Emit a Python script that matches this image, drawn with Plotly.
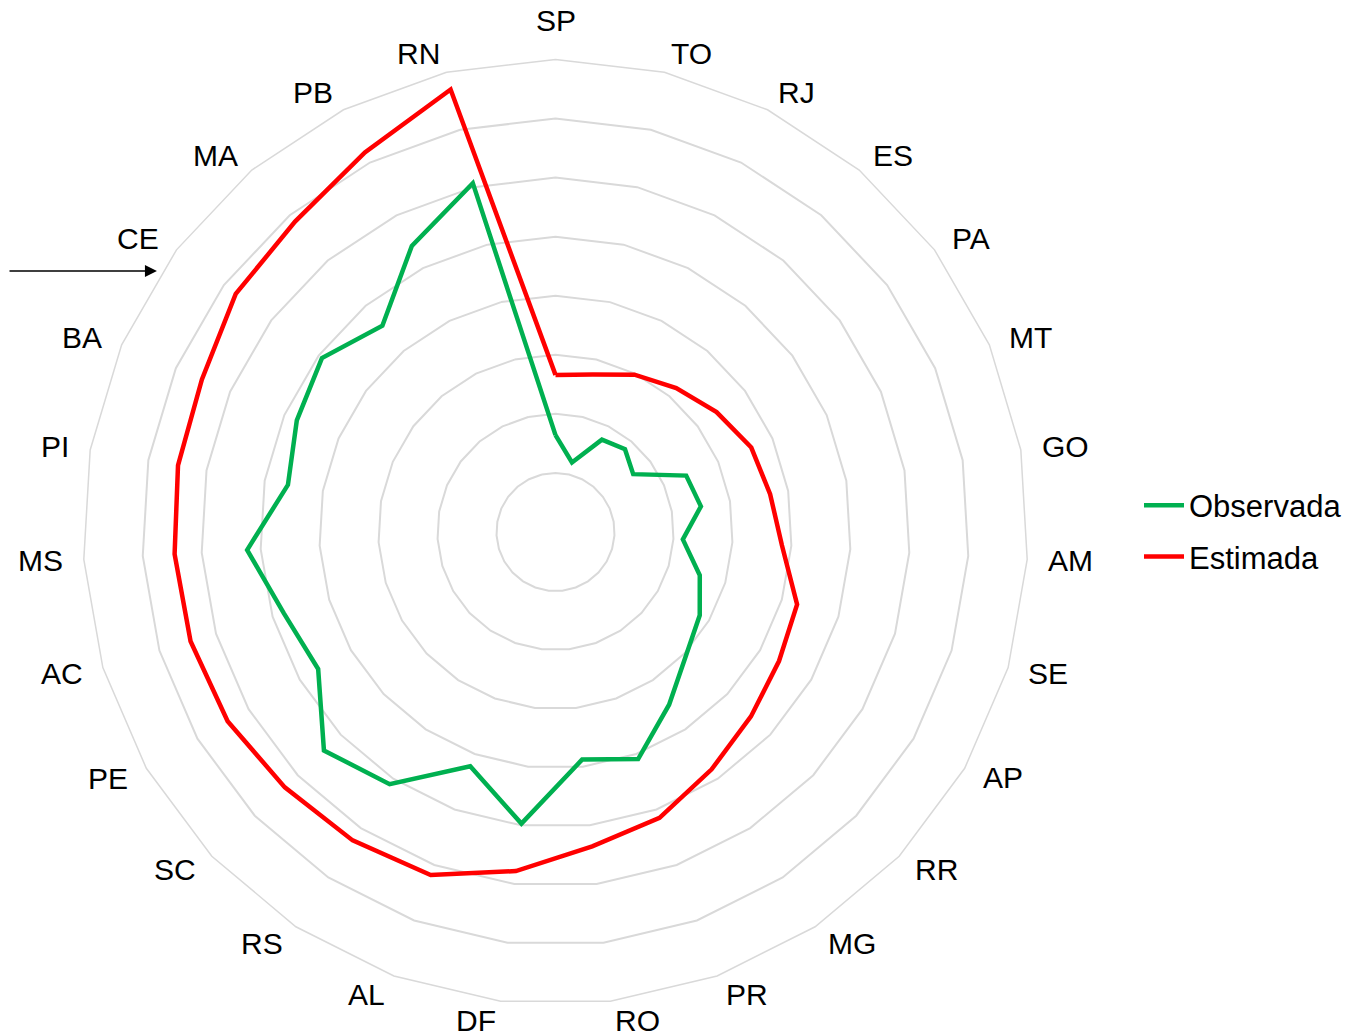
import math
import plotly.graph_objects as go

categories = ["SP", "TO", "RJ", "ES", "PA", "MT", "GO", "AM", "SE", "AP", "RR", "MG", "PR", "RO",
              "DF", "AL", "RS", "SC", "PE", "AC", "MS", "PI", "BA", "CE", "MA", "PB", "RN"]

observada = [1.64, 1.21, 1.75, 1.83, 1.64, 2.41, 2.50, 2.16, 2.55, 2.82, 3.04, 3.50, 4.09, 3.88,
             4.97, 4.22, 5.11, 5.39, 4.64, 4.80, 5.23, 4.60, 4.77, 4.93, 4.56, 5.42, 6.07]

estimada = [2.66, 2.74, 2.98, 3.18, 3.40, 3.61, 3.69, 3.84, 4.27, 4.37, 4.55, 4.81, 5.15, 5.36,
            5.78, 6.18, 6.25, 6.30, 6.41, 6.45, 6.46, 6.49, 6.52, 6.75, 6.86, 7.19, 7.70]

W, H = 1350, 1034
OFF = 8  # page body offset
L, T, SIDE = 83 - OFF, 59 - OFF, 946
R, B = W - L - SIDE, H - T - SIDE
FONT = "Liberation Sans, Arial, sans-serif"

def px2paper(px, py):
    return (px - OFF - L) / (W - L - R), 1 - (py - OFF - T) / (H - T - B)

fig = go.Figure()
fig.add_trace(go.Scatterpolar(
    r=observada + [observada[0]], theta=categories + [categories[0]],
    mode="lines", name="Observada", legendgroup="a",
    line=dict(color="#00b050", width=4.5)))
fig.add_trace(go.Scatterpolar(
    r=estimada + [estimada[0]], theta=categories + [categories[0]],
    mode="lines", name="Estimada", legendgroup="b",
    line=dict(color="#ff0000", width=4.5)))

# category labels placed around the outer ring (Excel-like placement)
cx, cy = OFF + L + SIDE / 2, OFF + T + SIDE / 2
rad = SIDE / 2
d = rad + 19
n = len(categories)
for i, cat in enumerate(categories):
    a = math.radians(360 * i / n)
    s, c = math.sin(a), math.cos(a)
    px, py = cx + d * s, cy - d * c
    if abs(s) < 1e-9:
        anchor = "center"
        py -= 20 * (1 if c > 0 else -1)
    elif s > 0:
        anchor = "left"
    else:
        anchor = "right"
    xp, yp = px2paper(px, py)
    fig.add_annotation(x=xp, y=yp, xref="paper", yref="paper", text=cat,
                       showarrow=False, xanchor=anchor, yanchor="middle",
                       font=dict(family=FONT, size=30, color="black"))

hx, hy = px2paper(157, 271)
fig.add_annotation(x=hx, y=hy, xref="paper", yref="paper", ax=-170, ay=0,
                   text="", showarrow=True, arrowhead=2, arrowsize=1.6,
                   arrowwidth=1.5, arrowcolor="black")

lx, ly = px2paper(1139, 531)
fig.update_layout(
    width=W, height=H,
    margin=dict(l=L, r=R, t=T, b=B),
    paper_bgcolor="white", plot_bgcolor="white",
    font=dict(family=FONT, size=30, color="black"),
    polar=dict(
        bgcolor="white",
        gridshape="linear",
        radialaxis=dict(range=[0, 8], dtick=1, showticklabels=False, ticks="",
                        showline=False, gridcolor="#d9d9d9", gridwidth=1.5),
        angularaxis=dict(rotation=90, direction="clockwise", showgrid=False,
                         showline=True, linecolor="#d9d9d9", linewidth=1.5,
                         ticks="", showticklabels=False),
    ),
    legend=dict(x=lx, y=ly, xanchor="left", yanchor="middle",
                font=dict(family=FONT, size=31, color="black"),
                bgcolor="rgba(0,0,0,0)", itemwidth=40, tracegroupgap=8,
                traceorder="grouped"),
    showlegend=True,
)

fig.write_html("out.html")
